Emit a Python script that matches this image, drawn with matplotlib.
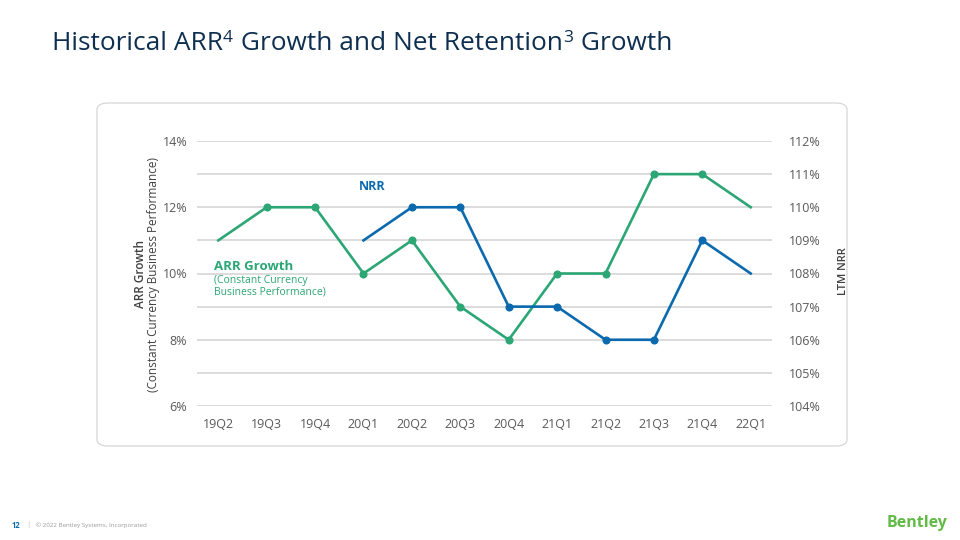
import matplotlib
matplotlib.use("Agg")
import matplotlib.pyplot as plt
from matplotlib.patches import FancyBboxPatch

plt.rcParams["font.family"] = ["Open Sans", "DejaVu Sans"]

quarters = ["19Q2", "19Q3", "19Q4", "20Q1", "20Q2", "20Q3",
            "20Q4", "21Q1", "21Q2", "21Q3", "21Q4", "22Q1"]
arr_growth = [11.0, 12.0, 12.0, 10.0, 11.0, 9.0, 8.0, 10.0, 10.0, 13.0, 13.0, 12.0]
nrr_quarters = quarters[3:]
nrr = [109.0, 110.0, 110.0, 107.0, 107.0, 106.0, 106.0, 109.0, 108.0]

green = "#2BA674"
blue = "#0B69AE"
navy = "#0E2F4F"
tick_gray = "#595959"
grid_gray = "#D9D9D9"

fig = plt.figure(figsize=(9.6, 5.4), dpi=100)

# card behind the chart
card = FancyBboxPatch((97 / 960, 1 - 446 / 540), 750 / 960, 343 / 540,
                      boxstyle="round,pad=0,rounding_size=0.012",
                      transform=fig.transFigure, facecolor="white",
                      edgecolor="#D6D6D6", linewidth=0.9, zorder=-10)
fig.patches.append(card)

# title built from pieces so the footnote numbers sit like superscripts
title_parts = [("Historical ARR", False), ("4", True), (" Growth and Net Retention", False),
               ("3", True), (" Growth", False)]
renderer = fig.canvas.get_renderer()
tx = 52
for part, sup in title_parts:
    size = 12.5 if sup else 18.9
    dy = 8 if sup else 0
    t = fig.text(tx / 960, (540 - 50 + dy) / 540, part, fontsize=size,
                 color=navy, ha="left", va="baseline")
    tx += t.get_window_extent(renderer).width + (1 if sup else 0)

ax = fig.add_axes([197 / 960, 1 - 406 / 540, 575 / 960, 265 / 540])
ax.patch.set_alpha(0)
x = list(range(len(quarters)))
ax.plot(x, arr_growth, color=green, lw=1.9, marker="o", ms=4.8,
        markevery=list(range(1, len(arr_growth) - 1)), zorder=3)
ax.set_ylim(6, 14)
ax.set_xlim(-0.44, len(quarters) - 1 + 0.44)
ax.set_yticks([6, 7, 8, 9, 10, 11, 12, 13, 14])
ax.set_yticklabels(["6%", "", "8%", "", "10%", "", "12%", "", "14%"])
ax.set_xticks(x)
ax.set_xticklabels(quarters)
ax.grid(axis="y", color=grid_gray, lw=1.3)
ax.set_axisbelow(True)
for s in ax.spines.values():
    s.set_visible(False)
ax.tick_params(length=0, labelsize=9, colors=tick_gray)
ax.tick_params(axis="y", pad=7)
ax.tick_params(axis="x", pad=9)

ax2 = ax.twinx()
nx = [quarters.index(q) for q in nrr_quarters]
ax2.plot(nx, nrr, color=blue, lw=1.9, marker="o", ms=4.8,
         markevery=list(range(1, len(nrr) - 1)), zorder=3)
ax2.set_ylim(104, 112)
ax2.set_yticks(range(104, 113))
ax2.set_yticklabels([f"{v}%" for v in range(104, 113)])
for s in ax2.spines.values():
    s.set_visible(False)
ax2.tick_params(length=0, labelsize=9, colors=tick_gray, pad=12)

# axis titles
fig.text(141 / 960, 1 - 274 / 540, "ARR Growth", rotation=90, fontsize=8.5,
         fontweight="semibold", color="#404040", ha="center", va="center")
fig.text(153 / 960, 1 - 274 / 540, "(Constant Currency Business Performance)",
         rotation=90, fontsize=8.5, color="#404040", ha="center", va="center")
fig.text(843 / 960, 1 - 271 / 540, "LTM NRR", rotation=90, fontsize=8,
         fontweight="semibold", color="#404040", ha="center", va="center")

# series labels
ax.text(3.17, 12.63, "NRR", color=blue, fontsize=9, fontweight="bold",
        ha="center", va="center")
ax.text(-0.08, 10.2, "ARR Growth", color=green, fontsize=9.5, fontweight="bold",
        ha="left", va="center")
ax.text(-0.08, 9.62, "(Constant Currency\nBusiness Performance)", color=green,
        fontsize=7.5, ha="left", va="center", linespacing=1.0)

# footer
fig.text(12 / 960, 1 - 525 / 540, "12", fontsize=5.5, fontweight="bold",
         color=blue, va="center")
fig.text(26 / 960, 1 - 525 / 540, "|", fontsize=5.5, color="#BBBBBB", va="center")
fig.text(36 / 960, 1 - 525 / 540, "\u00a9 2022 Bentley Systems, Incorporated",
         fontsize=4.5, color="#9A9A9A", va="center")
fig.text(917 / 960, 1 - 523 / 540, "Bentley", fontsize=11.5, fontweight="bold",
         color="#62BB46", ha="center", va="center")

fig.savefig("out.png", dpi=100)
plt.close(fig)
